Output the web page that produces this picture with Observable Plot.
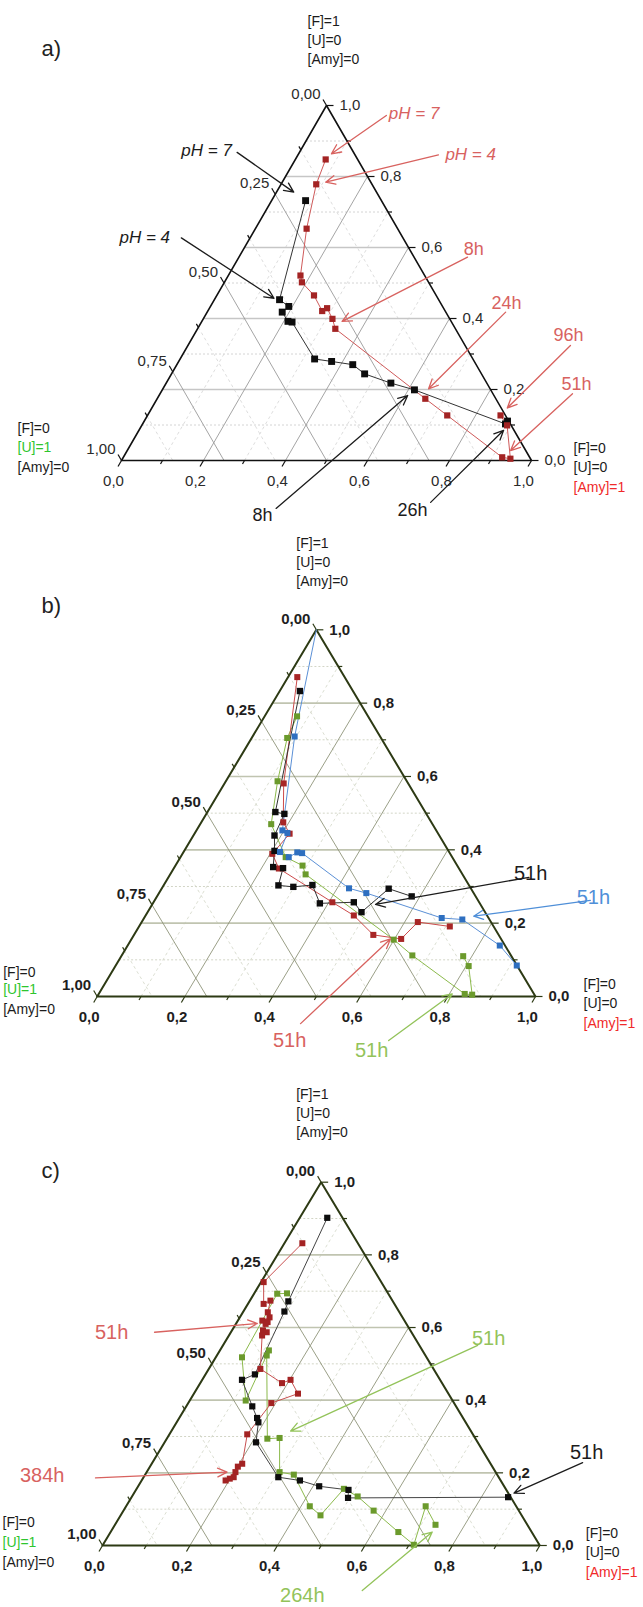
<!DOCTYPE html>
<html><head><meta charset="utf-8">
<script src="https://cdn.jsdelivr.net/npm/d3@7"></script>
<script src="https://cdn.jsdelivr.net/npm/@observablehq/plot@0.6"></script>
<style>
body{margin:0;background:#fff;}
#root{position:relative;width:643px;height:1607px;overflow:hidden;background:#fff;}
#root svg{position:absolute;left:0;}
</style></head><body><div id="root"></div>
<script>
// ---- data: each point is [F, Amy]  (U = 1 - F - Amy) ----
const aBlack = [[0.732,0.083],[0.453,0.159],[0.434,0.191],[0.418,0.183],[0.392,0.210],[0.390,0.221],[0.286,0.328],[0.279,0.373],[0.270,0.429],[0.244,0.471],[0.218,0.548],[0.199,0.615],[0.103,0.885],[0.111,0.886]];
const aRed = [[0.848,0.074],[0.778,0.086],[0.653,0.125],[0.521,0.176],[0.502,0.189],[0.465,0.237],[0.421,0.279],[0.429,0.287],[0.399,0.315],[0.371,0.336],[0.174,0.654],[0.127,0.731],[0.009,0.924],[0.005,0.946],[0.099,0.891],[0.127,0.861]];

const bRed = [[0.871,0.021],[0.581,0.135],[0.475,0.187],[0.444,0.217],[0.389,0.205],[0.349,0.240],[0.257,0.408],[0.221,0.475],[0.168,0.546],[0.157,0.615],[0.203,0.630],[0.191,0.709]];
const bBlack = [[0.833,0.046],[0.503,0.155],[0.498,0.178],[0.439,0.185],[0.397,0.206],[0.353,0.225],[0.350,0.249],[0.303,0.262],[0.299,0.298],[0.304,0.339],[0.254,0.381],[0.257,0.457],[0.230,0.488],[0.294,0.518],[0.273,0.581]];
const bGreen = [[0.764,0.074],[0.705,0.081],[0.587,0.118],[0.470,0.162],[0.380,0.240],[0.357,0.290],[0.333,0.309],[0.155,0.599],[0.112,0.663],[0.007,0.835],[0.005,0.853],[0.083,0.806],[0.110,0.780]];
const bBlue = [[1,0],[0.709,0.096],[0.453,0.196],[0.446,0.211],[0.394,0.220],[0.380,0.247],[0.393,0.260],[0.391,0.272],[0.295,0.427],[0.282,0.473],[0.214,0.679],[0.210,0.728],[0.139,0.849],[0.0845,0.915]];

const cRed = [[0.832,0.041],[0.725,0.006],[0.665,0.036],[0.674,0.047],[0.642,0.057],[0.628,0.068],[0.619,0.056],[0.615,0.070],[0.610,0.068],[0.592,0.071],[0.587,0.082],[0.578,0.076],[0.486,0.118],[0.447,0.187],[0.456,0.202],[0.418,0.238],[0.392,0.190],[0.306,0.178],[0.225,0.207],[0.217,0.201],[0.202,0.203],[0.188,0.206],[0.184,0.199],[0.179,0.192]];
const cGreen = [[0.694,0.075],[0.693,0.053],[0.518,0.060],[0.399,0.128],[0.537,0.112],[0.523,0.114],[0.294,0.230],[0.296,0.257],[0.202,0.304],[0.195,0.340],[0.108,0.420],[0.083,0.457],[0.156,0.474],[0.135,0.516],[0.096,0.572],[0.037,0.658],[0.002,0.711],[0.108,0.685],[0.057,0.733]];
const cBlack = [[0.902,0.063],[0.672,0.089],[0.644,0.094],[0.471,0.113],[0.456,0.091],[0.383,0.151],[0.351,0.178],[0.339,0.187],[0.284,0.209],[0.188,0.308],[0.179,0.362],[0.163,0.414],[0.153,0.486],[0.131,0.496],[0.133,0.861]];

// ---- axis ticks and labels ----
const fMajor = [0,0.2,0.4,0.6,0.8,1];
const fLabels = ["0,0","0,2","0,4","0,6","0,8","1,0"];
const amyMajor = [0,0.2,0.4,0.6,0.8,1];
const amyLabels = ["0,0","0,2","0,4","0,6","0,8","1,0"];
const uMajor = [0,0.25,0.5,0.75,1];
const uLabels = ["0,00","0,25","0,50","0,75","1,00"];
const fGridMajor = [0.2,0.4,0.6,0.8];
const fGridMinor = [0.1,0.3,0.5,0.7,0.9];
const amyGridMajor = [0.2,0.4,0.6,0.8];
const amyGridMinor = [0.1,0.3,0.5,0.7,0.9];
const uGridMajor = [0.25,0.5,0.75];
const uGridMinor = [0.125,0.375,0.625,0.875];

const topCorner = ["[F]=1","[U]=0","[Amy]=0"];
const leftCorner = ["[F]=0","[U]=1","[Amy]=0"];
const rightCorner = ["[F]=0","[U]=0","[Amy]=1"];
const INK = "#1c1c1c", SALMON = "#d8625f", LGREEN = "#93c35a", LBLUE = "#4f8fd8";
const topColors = [INK, INK, INK];
const leftColors = [INK, "#2ec52e", INK];
const rightColors = [INK, INK, "#f02a2a"];

// ---- annotations (positions in triangle-plane units: x = Amy + F/2, y = F) ----
const aNotes = [
  {t:"pH = 7", c:INK, tx:0.146, ty:0.873, a:"start", x1:0.282, y1:0.868, x2:0.420, y2:0.756, it:true},
  {t:"pH = 4", c:INK, tx:-0.005, ty:0.629, a:"start", x1:0.146, y1:0.627, x2:0.372, y2:0.457, it:true},
  {t:"pH = 7", c:SALMON, tx:0.652, ty:0.978, a:"start", x1:0.646, y1:0.972, x2:0.512, y2:0.864, it:true},
  {t:"pH = 4", c:SALMON, tx:0.790, ty:0.862, a:"start", x1:0.773, y1:0.861, x2:0.498, y2:0.784, it:true},
  {t:"8h", c:SALMON, tx:0.859, ty:0.596, a:"start", x1:0.844, y1:0.573, x2:0.538, y2:0.392},
  {t:"24h", c:SALMON, tx:0.939, ty:0.443, a:"start", x1:0.937, y1:0.418, x2:0.749, y2:0.202},
  {t:"96h", c:SALMON, tx:1.090, ty:0.352, a:"start", x1:1.095, y1:0.324, x2:0.941, y2:0.148},
  {t:"51h", c:SALMON, tx:1.110, ty:0.214, a:"start", x1:1.100, y1:0.188, x2:0.949, y2:0.028},
  {t:"8h", c:INK, tx:0.344, ty:-0.155, a:"middle", x1:0.377, y1:-0.135, x2:0.698, y2:0.183},
  {t:"26h", c:INK, tx:0.710, ty:-0.141, a:"middle", x1:0.754, y1:-0.118, x2:0.932, y2:0.085}
];
const bNotes = [
  {t:"51h", c:INK, tx:0.989, ty:0.335, a:"start", x1:0.985, y1:0.325, x2:0.635, y2:0.251},
  {t:"51h", c:LBLUE, tx:1.132, ty:0.270, a:"start", x1:1.125, y1:0.262, x2:0.859, y2:0.219},
  {t:"51h", c:SALMON, tx:0.439, ty:-0.120, a:"middle", x1:0.464, y1:-0.074, x2:0.669, y2:0.157},
  {t:"51h", c:LGREEN, tx:0.626, ty:-0.147, a:"middle", x1:0.665, y1:-0.120, x2:0.810, y2:0.007}
];
const cNotes = [
  {t:"51h", c:SALMON, tx:0.021, ty:0.587, a:"start", x1:0.119, y1:0.587, x2:0.354, y2:0.611},
  {t:"51h", c:LGREEN, tx:0.883, ty:0.570, a:"start", x1:0.858, y1:0.551, x2:0.430, y2:0.315},
  {t:"384h", c:SALMON, tx:-0.138, ty:0.193, a:"start", x1:-0.016, y1:0.186, x2:0.285, y2:0.202},
  {t:"51h", c:INK, tx:1.107, ty:0.256, a:"start", x1:1.098, y1:0.228, x2:0.941, y2:0.144},
  {t:"264h", c:LGREEN, tx:0.457, ty:-0.138, a:"start", x1:0.594, y1:-0.124, x2:0.754, y2:0.037}
];

const FONT = "Liberation Sans, Arial, Helvetica, sans-serif";
const toXY = arr => arr.map(([F, A]) => ({x: A + F / 2, y: F, F}));

function makePanel(p) {
  const w = p.R - p.L, h = p.B - p.T;
  const ux = v => v / w, uy = v => v / h;
  const th = p.theme;
  const fT = d3.range(11).map(i => i / 10);
  const uT = d3.range(9).map(i => i / 8);
  const gF = f => ({x1: f / 2, y1: f, x2: 1 - f / 2, y2: f});
  const gA = a => ({x1: a, y1: 0, x2: a + (1 - a) / 2, y2: 1 - a});
  const gU = u => ({x1: (1 - u) / 2, y1: 1 - u, x2: 1 - u, y2: 0});
  const L = {x1: "x1", y1: "y1", x2: "x2", y2: "y2"};
  const tickF = fT.map((f, i) => { const len = i % 2 ? 4 : 7; const x = 1 - f / 2; return {x1: x, y1: f, x2: x + ux(len), y2: f}; });
  const tickA = fT.map((a, i) => { const len = i % 2 ? 4 : 7; return {x1: a, y1: 0, x2: a - ux(len * 0.5), y2: -uy(len * 0.866)}; });
  const tickU = uT.map((u, i) => { const len = i % 2 ? 4 : 7; const x = (1 - u) / 2, y = 1 - u; return {x1: x, y1: y, x2: x - ux(len * 0.5), y2: y + uy(len * 0.866)}; });
  const tl = {fontSize: 15, fill: th.label, fontWeight: th.labelWeight};

  const marks = [
    Plot.link(fGridMinor.map(gF), {...L, stroke: th.minor, strokeWidth: 1, strokeDasharray: "2,2"}),
    Plot.link(amyGridMinor.map(gA), {...L, stroke: th.minor, strokeWidth: 0.8, strokeDasharray: "3,3"}),
    Plot.link(uGridMinor.map(gU), {...L, stroke: th.minor, strokeWidth: 0.8, strokeDasharray: "3,3"}),
    Plot.link(fGridMajor.map(gF), {...L, stroke: th.fMajor, strokeWidth: 1.7}),
    Plot.link(amyGridMajor.map(gA), {...L, stroke: th.diag, strokeWidth: 0.9}),
    Plot.link(uGridMajor.map(gU), {...L, stroke: th.diag, strokeWidth: 0.9}),
    Plot.line([{x:0,y:0},{x:1,y:0},{x:0.5,y:1},{x:0,y:0}], {x: "x", y: "y", stroke: th.edge, strokeWidth: th.edgeW, strokeLinejoin: "miter"}),
    Plot.link(tickF, {...L, stroke: th.edge, strokeWidth: 1.2}),
    Plot.link(tickA, {...L, stroke: th.edge, strokeWidth: 1.2}),
    Plot.link(tickU, {...L, stroke: th.edge, strokeWidth: 1.2}),
    Plot.text(fMajor.map((f, i) => ({x: 1 - f / 2, y: f, t: fLabels[i]})), {x: "x", y: "y", text: "t", dx: 13, textAnchor: "start", ...tl}),
    Plot.text(amyMajor.map((a, i) => ({x: a, y: 0, t: amyLabels[i]})), {x: "x", y: "y", text: "t", dx: -8, dy: 21, textAnchor: "middle", ...tl}),
    Plot.text(uMajor.map((u, i) => ({x: (1 - u) / 2, y: 1 - u, t: uLabels[i]})), {x: "x", y: "y", text: "t", dx: -6, dy: -11, textAnchor: "end", ...tl})
  ];
  for (const s of p.series) {
    const pts = toXY(s.data);
    marks.push(Plot.line(pts, {x: "x", y: "y", stroke: s.line, strokeWidth: 1}));
  }
  for (const s of p.series) {
    const pts = toXY(s.data);
    marks.push(Plot.dot(pts, {x: "x", y: "y", filter: d => d.F < 1, symbol: "square", r: s.r, fill: s.dot, stroke: "none"}));
  }
  marks.push(
    Plot.arrow(p.notes, {x1: "x1", y1: "y1", x2: "x2", y2: "y2", stroke: "c", strokeWidth: 1.3, headLength: 12, headAngle: 50}),
    Plot.text(p.notes, {filter: d => !d.it, x: "tx", y: "ty", text: "t", fill: "c", textAnchor: d => d.a, fontSize: p.noteSize}),
    Plot.text(p.notes, {filter: d => d.it, x: "tx", y: "ty", text: "t", fill: "c", textAnchor: "start", fontSize: p.phSize, fontStyle: "italic"}),
    Plot.text(topCorner.map((t, i) => ({x: 0.5 + ux(p.topDx), y: 1 + uy(-p.topDys[i]), t, c: topColors[i]})), {x: "x", y: "y", text: "t", fill: "c", textAnchor: "start", fontSize: 14}),
    Plot.text(leftCorner.map((t, i) => ({x: ux(p.leftDx), y: uy(-p.leftDys[i]), t, c: leftColors[i]})), {x: "x", y: "y", text: "t", fill: "c", textAnchor: "start", fontSize: 14}),
    Plot.text(rightCorner.map((t, i) => ({x: 1 + ux(p.rightDx), y: uy(-p.rightDys[i]), t, c: rightColors[i]})), {x: "x", y: "y", text: "t", fill: "c", textAnchor: "start", fontSize: 14}),
    Plot.text([p.letter], {frameAnchor: "top-left", dx: p.letterX, dy: p.letterY, textAnchor: "start", fontSize: 22, fill: "#222"})
  );
  const svg = Plot.plot({
    width: 643, height: p.height, margin: 0,
    x: {domain: [0, 1], range: [p.L, p.R], axis: null},
    y: {domain: [0, 1], range: [p.B, p.T], axis: null},
    color: {type: "identity"},
    style: {background: "transparent", overflow: "visible", fontFamily: FONT},
    marks
  });
  svg.style.top = p.top + "px";
  return svg;
}

const themeA = {edge: "#111", edgeW: 1.6, fMajor: "#c6c6c6", diag: "#9a9a9a", minor: "#d4d4d4", label: "#2a2a2a", labelWeight: "normal"};
const themeBC = {edge: "#2d3a14", edgeW: 2, fMajor: "#c0c4b0", diag: "#8e9479", minor: "#d2d5c6", label: "#1e1e1e", labelWeight: "bold"};

const root = document.getElementById("root");
root.appendChild(makePanel({
  top: 0, height: 545, L: 121, R: 531, B: 460, T: 105, theme: themeA,
  series: [
    {data: aBlack, line: "#333", dot: "#0d0d0d", r: 3.9},
    {data: aRed, line: "#cf5a5a", dot: "#a32323", r: 3.5}
  ],
  notes: aNotes, noteSize: 18, phSize: 17,
  topDx: -19, topDys: [-84, -65, -46],
  leftDx: -104, leftDys: [-32, -13, 7],
  rightDx: 42, rightDys: [-12, 7, 27],
  letter: "a)", letterX: 41, letterY: 40
}));
root.appendChild(makePanel({
  top: 520, height: 545, L: 96.7, R: 535, B: 476, T: 109.3, theme: themeBC,
  series: [
    {data: bGreen, line: "#8cba4c", dot: "#6b9a2c", r: 3.4},
    {data: bRed, line: "#cc4a4a", dot: "#a82626", r: 3.4},
    {data: bBlack, line: "#333", dot: "#0d0d0d", r: 3.6},
    {data: bBlue, line: "#5b90d6", dot: "#2e6fc0", r: 3.4}
  ],
  notes: bNotes, noteSize: 20, phSize: 17,
  topDx: -20, topDys: [-86, -67, -48],
  leftDx: -94, leftDys: [-24, -7, 13],
  rightDx: 48, rightDys: [-12, 7, 27],
  letter: "b)", letterX: 41, letterY: 77
}));
root.appendChild(makePanel({
  top: 1060, height: 547, L: 102, R: 539.3, B: 485, T: 121.7, theme: themeBC,
  series: [
    {data: cGreen, line: "#8cba4c", dot: "#6b9a2c", r: 3.4},
    {data: cBlack, line: "#444", dot: "#0d0d0d", r: 3.5},
    {data: cRed, line: "#c85050", dot: "#a32323", r: 3.4}
  ],
  notes: cNotes, noteSize: 20, phSize: 17,
  topDx: -25, topDys: [-88, -69, -50],
  leftDx: -100, leftDys: [-23, -3, 17],
  rightDx: 46, rightDys: [-12, 7, 27],
  letter: "c)", letterX: 41, letterY: 102
}));
</script></body></html>
